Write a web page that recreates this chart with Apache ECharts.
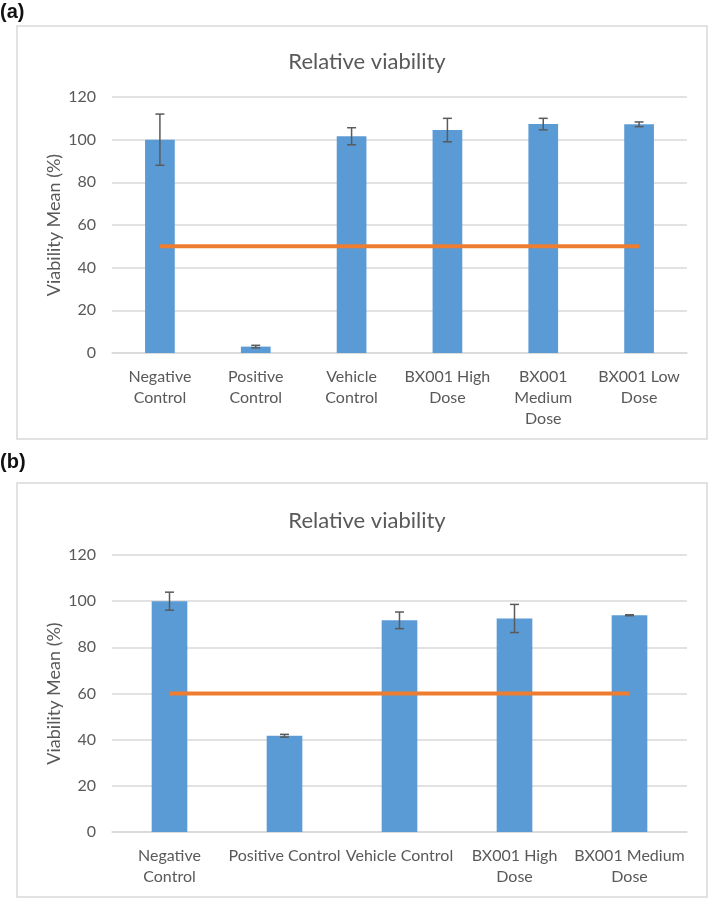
<!DOCTYPE html>
<html>
<head>
<meta charset="utf-8">
<title>Relative viability</title>
<script src="https://cdn.jsdelivr.net/npm/echarts@6/dist/echarts.min.js"></script>
<style>
  html, body { margin: 0; padding: 0; background: #fff; }
  #chart { width: 709px; height: 900px; }
</style>
</head>
<body>
<div id="chart"></div>
<script>
// panel (a)
const catsA = ["Negative\nControl", "Positive\nControl", "Vehicle\nControl", "BX001 High\nDose", "BX001\nMedium\nDose", "BX001 Low\nDose"];
const meanA = [100, 3.0, 101.6, 104.5, 107.3, 107.2];
const errA = [12, 0.6, 4, 5.5, 2.7, 1.1];
const refA = 50;

// panel (b)
const catsB = ["Negative\nControl", "Positive Control", "Vehicle Control", "BX001 High\nDose", "BX001 Medium\nDose"];
const meanB = [100, 41.7, 91.7, 92.5, 93.9];
const errB = [3.9, 0.6, 3.6, 6.1, 0.2];
const refB = 60;

// y axis ticks
const yMin = 0;
const yMax = 120;
const yStep = 20;

const barColor = "#5B9BD5";
const lineColor = "#ED7D31";
const textColor = "#595959";
const gridColor = "#D9D9D9";
const font = "Lato";

var chart = echarts.init(document.getElementById("chart"), null, { renderer: "canvas" });

function errorBar(params, api) {
  var i = api.value(0);
  var lo = api.coord([i, api.value(1)]);
  var hi = api.coord([i, api.value(2)]);
  var w = 4.5;
  var style = { stroke: "#5a5a5a", lineWidth: 1.5 };
  return {
    type: "group",
    children: [
      { type: "line", shape: { x1: hi[0], y1: hi[1], x2: lo[0], y2: lo[1] }, style: style },
      { type: "line", shape: { x1: hi[0] - w, y1: hi[1], x2: hi[0] + w, y2: hi[1] }, style: style },
      { type: "line", shape: { x1: lo[0] - w, y1: lo[1], x2: lo[0] + w, y2: lo[1] }, style: style },
    ],
  };
}

function xAxisCfg(cats, idx) {
  return {
    type: "category",
    gridIndex: idx,
    data: cats,
    axisTick: { show: false },
    axisLine: { lineStyle: { color: gridColor, width: 1.5 } },
    axisLabel: {
      color: textColor,
      fontFamily: font,
      fontSize: 16,
      lineHeight: 21,
      margin: 13,
      interval: 0,
    },
  };
}

function yAxisCfg(idx) {
  return {
    type: "value",
    gridIndex: idx,
    min: yMin,
    max: yMax,
    interval: yStep,
    name: "Viability Mean (%)",
    nameLocation: "middle",
    nameGap: 49,
    nameMoveOverlap: false,
    nameTextStyle: { color: textColor, fontFamily: font, fontSize: 18 },
    axisLine: { show: false },
    axisTick: { show: false },
    axisLabel: { color: textColor, fontFamily: font, fontSize: 16, margin: 16 },
    splitLine: { lineStyle: { color: gridColor, width: 1.5 } },
  };
}

function seriesFor(cats, mean, err, ref, idx) {
  return [
    {
      type: "bar",
      xAxisIndex: idx,
      yAxisIndex: idx,
      data: mean,
      barCategoryGap: "69%",
      itemStyle: { color: barColor },
      z: 2,
    },
    {
      type: "line",
      xAxisIndex: idx,
      yAxisIndex: idx,
      data: cats.map(function () { return ref; }),
      symbol: "none",
      lineStyle: { color: lineColor, width: 4 },
      z: 3,
    },
    {
      type: "custom",
      xAxisIndex: idx,
      yAxisIndex: idx,
      renderItem: errorBar,
      encode: { x: 0, y: [1, 2] },
      data: mean.map(function (m, i) { return [i, m - err[i], m + err[i]]; }),
      z: 4,
    },
  ];
}

chart.setOption({
  animation: false,
  title: [
    {
      text: "Relative viability",
      left: 362,
      textAlign: "center",
      top: 46,
      textStyle: { color: textColor, fontFamily: font, fontSize: 22, fontWeight: "normal" },
    },
    {
      text: "Relative viability",
      left: 362,
      textAlign: "center",
      top: 505,
      textStyle: { color: textColor, fontFamily: font, fontSize: 22, fontWeight: "normal" },
    },
  ],
  graphic: [
    { type: "rect", shape: { x: 17, y: 26, width: 690, height: 413 }, style: { fill: "none", stroke: gridColor, lineWidth: 1.5 } },
    { type: "rect", shape: { x: 17, y: 483, width: 690, height: 414 }, style: { fill: "none", stroke: gridColor, lineWidth: 1.5 } },
    { type: "text", left: 0, top: 2, style: { text: "(a)", fill: "#111", font: "bold 20px 'Liberation Sans'" } },
    { type: "text", left: 0, top: 452, style: { text: "(b)", fill: "#111", font: "bold 20px 'Liberation Sans'" } },
  ],
  grid: [
    { left: 112, width: 575, top: 97, height: 256 },
    { left: 112, width: 575, top: 555, height: 277 },
  ],
  xAxis: [xAxisCfg(catsA, 0), xAxisCfg(catsB, 1)],
  yAxis: [yAxisCfg(0), yAxisCfg(1)],
  series: seriesFor(catsA, meanA, errA, refA, 0).concat(seriesFor(catsB, meanB, errB, refB, 1)),
});
</script>
</body>
</html>
